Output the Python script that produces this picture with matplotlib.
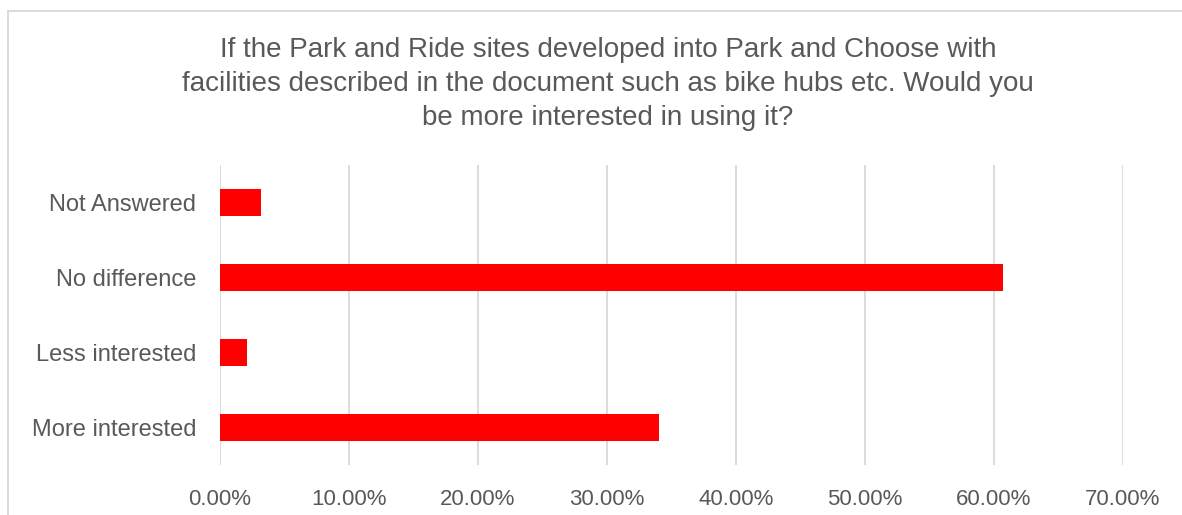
import numpy as np
import matplotlib.pyplot as plt
from matplotlib.lines import Line2D
from matplotlib.ticker import FuncFormatter

plt.rcParams["font.family"] = ["Liberation Sans", "DejaVu Sans"]

# data
categories = ["More interested", "Less interested", "No difference", "Not Answered"]
shares = [34.0, 2.1, 60.7, 3.2]
ticks = [0, 10, 20, 30, 40, 50, 60, 70]
title_lines = [
    "If the Park and Ride sites developed into Park and Choose with",
    "facilities described in the document such as bike hubs etc. Would you",
    "be more interested in using it?",
]

text_col = "#595959"
grid_col = "#D9D9D9"
W, H = 1182, 515

fig = plt.figure(figsize=(W / 100, H / 100), dpi=100)
ax = fig.add_axes([220 / W, 1 - 465 / H, (1123 - 220) / W, 300 / H])

y = np.arange(len(categories))
ax.barh(y, shares, height=0.36, color="#FF0000", zorder=3)

ax.set_xlim(0, 70)
ax.set_ylim(-0.5, len(categories) - 0.5)
ax.set_xticks(ticks)
ax.xaxis.set_major_formatter(FuncFormatter(lambda v, p: f"{v:.2f}%"))
ax.set_yticks(y)
ax.set_yticklabels(categories)
ax.grid(axis="x", color=grid_col, lw=1.3, zorder=0)
for s in ax.spines.values():
    s.set_visible(False)
ax.tick_params(axis="x", length=0, pad=17, labelsize=16, labelcolor=text_col)
ax.tick_params(axis="y", length=0, pad=17, labelsize=17, labelcolor=text_col)

# title, one line at a time
for i, line in enumerate(title_lines):
    fig.text(608 / W, 1 - (50 + 34 * i) / H, line, ha="center", va="center",
             fontsize=20, color=text_col)

# chart area border (left and top edges visible)
fig.add_artist(Line2D([8 / W, 8 / W], [0, 1 - 11 / H], transform=fig.transFigure,
                      color=grid_col, lw=1.3))
fig.add_artist(Line2D([8 / W, 1], [1 - 11 / H, 1 - 11 / H], transform=fig.transFigure,
                      color=grid_col, lw=1.3))

fig.savefig("out.png", dpi=100)
